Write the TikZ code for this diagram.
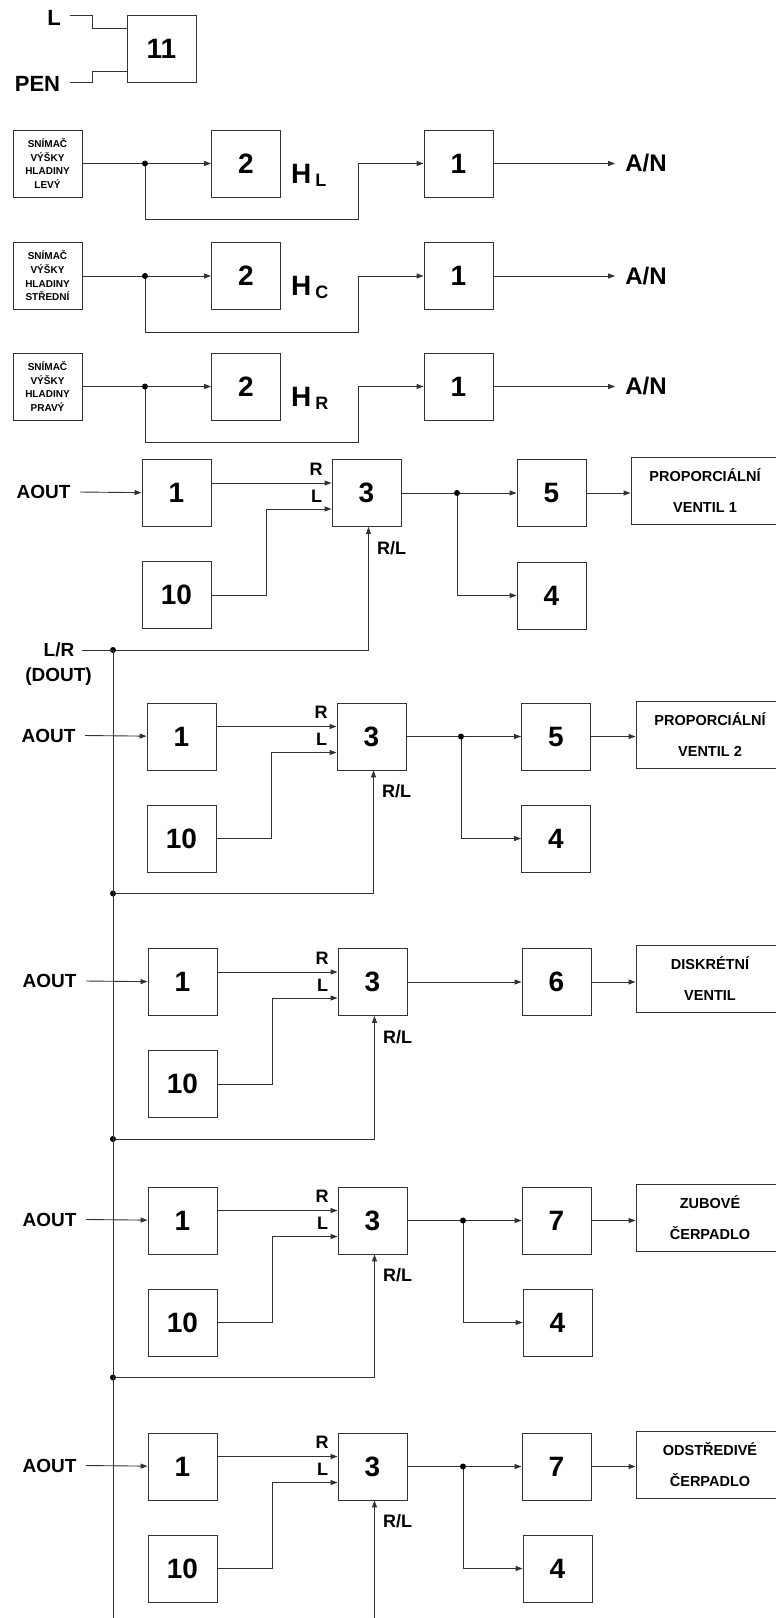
\documentclass[tikz,border=0pt]{standalone}
\usepackage{fontspec}
\setmainfont{Liberation Sans}
\usetikzlibrary{arrows.meta}
\tikzset{
  ln/.style={draw=black!80, line width=0.9pt},
  arr/.style={ln, -{Triangle[length=7pt,width=5pt]}},
  blk/.style={draw=black!80, line width=0.9pt, minimum width=69pt, minimum height=67pt, inner sep=0pt, font=\fontsize{28}{30}\selectfont\bfseries},
  sens/.style={draw=black!80, line width=0.9pt, minimum width=69pt, minimum height=67pt, inner sep=0pt, align=center, font=\fontsize{10}{13.7}\selectfont\bfseries},
  act/.style={draw=black!80, line width=0.9pt, minimum width=148pt, minimum height=67pt, inner sep=0pt, align=center, font=\fontsize{14.5}{31}\selectfont\bfseries},
  lbl/.style={inner sep=0pt, font=\fontsize{19}{22}\selectfont\bfseries},
  sml/.style={inner sep=0pt, font=\fontsize{18}{20}\selectfont\bfseries},
  big/.style={inner sep=0pt, font=\fontsize{22}{24}\selectfont\bfseries},
  an/.style={inner sep=0pt, font=\fontsize{24}{26}\selectfont\bfseries},
  hh/.style={inner sep=0pt, anchor=base west, font=\fontsize{28}{30}\selectfont\bfseries},
  dot/.style={circle, fill=black, inner sep=0pt, minimum size=6pt},
}
\newcommand\srow[4]{%
  \node[sens] (s#1) at (47.5,#2) {#3};
  \node[blk] (h#1) at (246,#2) {2};
  \node[blk] (o#1) at (458.5,#2) {1};
  \node[hh] (hl#1) at (291,{#2+19.5}) {H\hspace{4pt}\raisebox{-3pt}{\fontsize{18}{18}\selectfont #4}};
  \coordinate (d#1) at (145,#2);
  \node[an] (t#1) at (646,#2) {A/N};
  \draw[ln] (s#1) -- (d#1);
  \draw[arr] (d#1) -- (h#1);
  \draw[arr] (d#1) -- ({145},{#2+56}) -- (358,{#2+56}) -- (358,#2) -- (o#1);
  \draw[arr] (o#1) -- ([xshift=-10pt]t#1.west);
  \node[dot] (dd#1) at (d#1) {};
}
\newcommand\grp[3]{%
  \node[blk] (a#1) at (#2,#3) {1};
  \node[blk] (c#1) at ({#2+190},#3) {3};
  \node[blk] (z#1) at (#2,{#3+102}) {10};
  \node[lbl] (ao#1) at ({#2-133},{#3-1}) {AOUT};
  \node[sml] (r#1) at ({#2+139.5},{#3-24}) {R};
  \node[sml] (l#1) at ({#2+140},{#3+3}) {L};
  \node[sml] (rl#1) at ({#2+215},{#3+55}) {R/L};
  \coordinate (j#1) at (113,{#3+157});
  \draw[arr] ([xshift=9.5pt]ao#1.east) -- (a#1);
  \draw[arr] ([yshift=10pt]a#1.east) -- ([yshift=10pt]c#1.west);
  \draw[arr] (z#1) -- ({#2+90},{#3+102}) -- ({#2+90},{#3+16}) -- ([yshift=-16pt]c#1.west);
  \draw[arr] (j#1) -| ([xshift=2pt]c#1.south);
  \node[dot] (jd#1) at (j#1) {};
}
\begin{document}
\begin{tikzpicture}[x=1pt,y=-1pt]
\useasboundingbox (0,0) rectangle (776,1618);
% power supply
\node[blk] (p11) at (161.5,48.5) {11};
\node[big] (tL) at (54,18) {L};
\node[big] (tPEN) at (37.5,84) {PEN};
\coordinate (lS) at (70,15);
\coordinate (pS) at (70,82);
\draw[ln] (lS) -- (92,15) -- (92,28) -- (p11.west |- 0,28);
\draw[ln] (pS) -- (92,82) -- (92,71) -- (p11.west |- 0,71);
% level sensors
\srow{A}{163.5}{SNÍMAČ\\VÝŠKY\\HLADINY\\LEVÝ}{L}
\srow{B}{276}{SNÍMAČ\\VÝŠKY\\HLADINY\\STŘEDNÍ}{C}
\srow{C}{386.5}{SNÍMAČ\\VÝŠKY\\HLADINY\\PRAVÝ}{R}
% groups
\grp{1}{176.5}{493}
\grp{2}{181.5}{736.5}
\grp{3}{182.5}{982}
\grp{4}{182.5}{1220.5}
\grp{5}{182.5}{1466.5}
% L/R input and bus
\node[lbl] (lr) at (59,650) {L/R};
\node[lbl] (dout) at (58.5,677) {(DOUT)};
\draw[ln] ([xshift=7pt]lr.east) -- (j1);
\coordinate (busend) at (113,1640);
\draw[ln] (j1) -- (busend);
% group 1 outputs
\coordinate (k1) at (457,493);
\node[blk] (f1) at (551.5,493) {5};
\node[blk] (g1) at (551.5,595.5) {4};
\node[act] (v1) at (705,490.5) {PROPORCIÁLNÍ\\VENTIL 1};
\draw[ln] (c1) -- (k1);
\draw[arr] (k1) -- (f1);
\draw[arr] (k1) |- (g1);
\draw[arr] (f1) -- (f1 -| v1.west);
\node[dot] (kd1) at (k1) {};
% group 2 outputs
\coordinate (k2) at (461,736.5);
\node[blk] (f2) at (556,736.5) {5};
\node[blk] (g2) at (556,838.5) {4};
\node[act] (v2) at (710,734.5) {PROPORCIÁLNÍ\\VENTIL 2};
\draw[ln] (c2) -- (k2);
\draw[arr] (k2) -- (f2);
\draw[arr] (k2) |- (g2);
\draw[arr] (f2) -- (f2 -| v2.west);
\node[dot] (kd2) at (k2) {};
% group 3 outputs
\node[blk] (f3) at (556.5,982) {6};
\node[act] (v3) at (710,979) {DISKRÉTNÍ\\VENTIL};
\draw[arr] (c3) -- (f3);
\draw[arr] (f3) -- (f3 -| v3.west);
% group 4 outputs
\coordinate (k4) at (463,1220.5);
\node[blk] (f4) at (556.5,1220.5) {7};
\node[blk] (g4) at (557.5,1322.5) {4};
\node[act] (v4) at (710,1218) {ZUBOVÉ\\ČERPADLO};
\draw[ln] (c4) -- (k4);
\draw[arr] (k4) -- (f4);
\draw[arr] (k4) |- (g4);
\draw[arr] (f4) -- (f4 -| v4.west);
\node[dot] (kd4) at (k4) {};
% group 5 outputs
\coordinate (k5) at (463,1466.5);
\node[blk] (f5) at (556.5,1466.5) {7};
\node[blk] (g5) at (557.5,1568.5) {4};
\node[act] (v5) at (710,1465) {ODSTŘEDIVÉ\\ČERPADLO};
\draw[ln] (c5) -- (k5);
\draw[arr] (k5) -- (f5);
\draw[arr] (k5) |- (g5);
\draw[arr] (f5) -- (f5 -| v5.west);
\node[dot] (kd5) at (k5) {};
\end{tikzpicture}
\end{document}
